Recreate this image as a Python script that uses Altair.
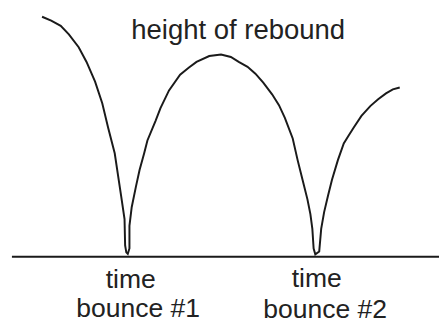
import altair as alt
import pandas as pd

# Trajectory of the bouncing ball: time (horizontal) and height above ground
time_vals = [42.7, 52, 61.7, 70, 80, 88, 96.7, 104, 110, 116.7, 120, 123.3, 126.7, 127.3, 128.5, 130,
             131.7, 131.7, 134, 138.3, 142, 146.7, 150, 158.3, 163.3, 172, 183.3, 192, 200, 213, 225,
             235, 243, 252, 260, 268, 277, 284, 290, 298, 303, 308, 313, 316, 318, 319.3, 321,
             325, 327, 330, 334, 338, 344, 350, 355, 360, 368, 377, 385, 393, 400, 407]
height_vals = [244.5, 240.5, 235.2, 226.5, 213.5, 198.5, 178.5, 156.5, 131.5, 105.5, 83.5, 61.5, 38.5, 11.5, 4.5, 3,
               8.5, 31.5, 50.5, 71.5, 88.5, 105.5, 118.5, 138.5, 151.5, 169.5, 185.5, 192.5, 198.5, 204.5, 206,
               203.5, 198.5, 193.5, 186.5, 177.5, 165.5, 154.5, 141.5, 120.5, 98.5, 78.5, 58.5, 43.5, 28.5, 8.5, 2.5,
               5.5, 28.5, 45.5, 62.5, 78.5, 98.5, 115.5, 123.5, 131.5, 143.5, 153.5, 160.5, 166.5, 170.5, 172.5]

# Ground line
ground_start = [12]
ground_end = [447]
ground_level = [0]

# Text labels
label_texts = ["height of rebound", "time", "bounce #1", "time", "bounce #2"]
label_time = [242.5, 133, 140.5, 322.5, 331]
label_height = [221.5, -31.5, -61.5, -30.5, -62.5]
label_size = [28, 27, 27, 27, 27]

traj = pd.DataFrame({"t": time_vals, "h": height_vals, "i": list(range(len(time_vals)))})
ground = pd.DataFrame({"t": ground_start, "t2": ground_end, "h": ground_level})
labels = pd.DataFrame({"t": label_time, "h": label_height, "txt": label_texts, "s": label_size})

xs = alt.Scale(domain=[8, 447], zero=False, nice=False)
ys = alt.Scale(domain=[-65.5, 250.5], zero=False, nice=False)

line = alt.Chart(traj).mark_line(color="#1a1a1a", strokeWidth=2).encode(
    x=alt.X("t:Q", scale=xs, axis=None),
    y=alt.Y("h:Q", scale=ys, axis=None),
    order="i:Q",
)

rule = alt.Chart(ground).mark_rule(color="#1a1a1a", strokeWidth=2).encode(
    x=alt.X("t:Q", scale=xs, axis=None),
    x2="t2:Q",
    y=alt.Y("h:Q", scale=ys, axis=None),
)

text = alt.Chart(labels).mark_text(
    font="Liberation Sans", align="center", baseline="alphabetic", color="#222222"
).encode(
    x=alt.X("t:Q", scale=xs, axis=None),
    y=alt.Y("h:Q", scale=ys, axis=None),
    text="txt:N",
    size=alt.Size("s:Q", scale=None, legend=None),
)

chart = alt.layer(line, rule, text).properties(
    width=439, height=316, padding=0,
    autosize=alt.AutoSizeParams(type="none"),
    background="white",
).configure_view(stroke=None)

chart.save("out.html", embed_options={"renderer": "svg", "actions": False})
